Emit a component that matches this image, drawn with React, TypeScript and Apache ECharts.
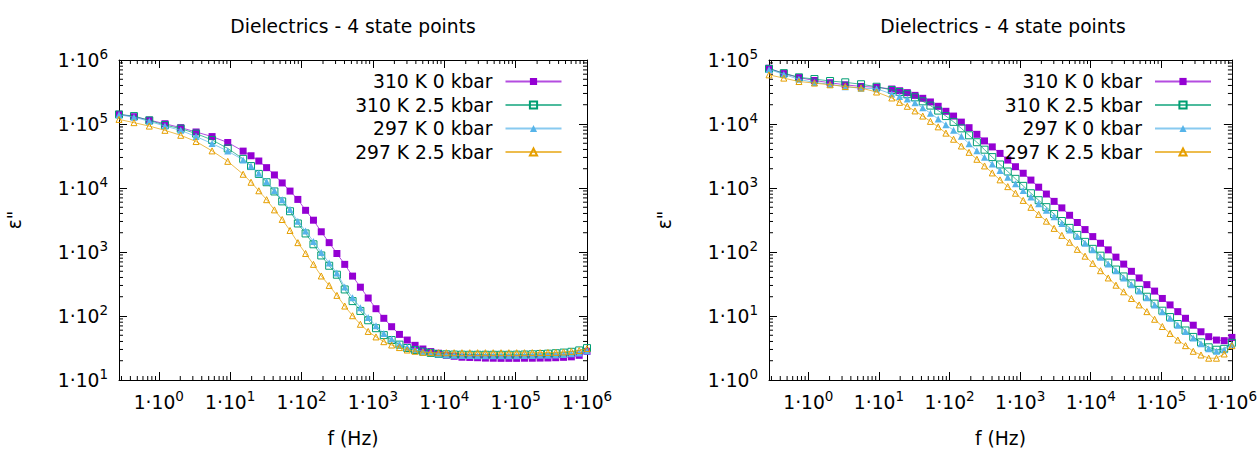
import React, { useEffect, useRef } from 'react';
import * as echarts from 'echarts';

const FONT = '"DejaVu Sans", Verdana, sans-serif';
const FS = 18.7;
const TITLE = 'Dielectrics - 4 state points';
const X_NAME = 'f (Hz)';
const Y_NAME = 'ε"';
const NAMES = ['310 K 0 kbar', '310 K 2.5 kbar', '297 K 0 kbar', '297 K 2.5 kbar'];
const COLORS = ['#9400d3', '#009e73', '#56b4e9', '#e69f00'];
const SYMBOLS = ['rect', 'rect', 'triangle', 'triangle'];
const HOLLOW = [false, true, false, true];
const SIZES = [7, 7, 7, 6];

// frequencies (Hz)
const FREQ = [
  0.277, 0.449, 0.736, 1.22, 2.03, 3.33, 5.58, 9.25,
  15.2, 19.6, 25.2, 32.4, 41.7, 53.6, 69.0, 88.8, 114, 147,
  189, 244, 313, 403, 519, 668, 859, 1105, 1422, 1830,
  2355, 3030, 3900, 5017, 6457, 8309, 10690, 13760, 17700, 22780,
  29310, 37720, 48530, 62450, 80350, 103400, 133000, 171200, 220300, 283500,
  364800, 469400, 604000, 777200, 1000000,
];

// left panel
const L_310_0 = [
  1.42e5, 1.30e5, 1.15e5, 1.01e5, 8.77e4, 7.50e4, 6.36e4, 5.14e4,
  3.77e4, 3.19e4, 2.64e4, 2.08e4, 1.60e4, 1.20e4, 8950, 6630, 4480, 3140,
  2070, 1400, 948, 641, 420, 282, 191, 130, 92, 68,
  51.6, 42.1, 34.8, 30.5, 27.8, 26.2, 24.4, 23.5, 22.7, 22.5,
  22.3, 22.0, 21.9, 21.8, 21.8, 21.8, 21.9, 21.9, 22.0, 22.1,
  22.3, 22.6, 23.0, 24.3, 28.0,
];
const L_310_25 = [
  1.41e5, 1.33e5, 1.14e5, 9.62e4, 8.46e4, 7.08e4, 5.64e4, 4.15e4,
  2.85e4, 2.20e4, 1.66e4, 1.23e4, 8830, 6180, 4330, 2790, 1950, 1320,
  883, 610, 442, 260, 171, 120, 85.8, 64.5, 50.3, 42.1,
  35.7, 31.6, 29.4, 27.8, 26.5, 25.5, 25.2, 25.0, 24.9, 24.8,
  24.8, 24.8, 24.8, 24.8, 24.8, 24.9, 25.0, 25.2, 25.5, 25.8,
  26.2, 26.8, 27.6, 29.0, 31.5,
];
const L_297_0 = [
  1.39e5, 1.28e5, 1.10e5, 9.27e4, 7.96e4, 6.36e4, 4.95e4, 3.77e4,
  2.75e4, 2.20e4, 1.70e4, 1.26e4, 9150, 6570, 4600, 3030, 2120, 1460,
  982, 671, 470, 285, 193, 135, 94.4, 70.3, 53.5, 43.6,
  36.5, 32.4, 29.9, 28.1, 26.9, 25.5, 24.8, 24.4, 24.2, 24.1,
  24.0, 24.0, 24.0, 24.0, 24.0, 24.0, 24.1, 24.2, 24.3, 24.4,
  24.6, 25.0, 25.6, 26.5, 28.5,
];
const L_297_25 = [
  1.18e5, 1.05e5, 9.27e4, 7.96e4, 6.66e4, 5.32e4, 3.80e4, 2.61e4,
  1.64e4, 1.23e4, 9050, 6570, 4550, 3220, 2170, 1400, 948, 641,
  422, 300, 210, 143, 101, 74.3, 57.4, 47.1, 39.7, 35.2,
  32.1, 29.4, 28.1, 27.1, 26.8, 26.7, 26.7, 26.7, 26.7, 26.7,
  26.7, 26.7, 26.7, 26.7, 26.7, 26.7, 26.7, 26.8, 26.8, 26.9,
  27.0, 27.4, 28.0, 28.9, 31.0,
];

// right panel
const R_310_0 = [
  7.44e4, 6.14e4, 5.32e4, 4.78e4, 4.41e4, 4.10e4, 3.86e4, 3.75e4,
  3.52e4, 3.31e4, 3.09e4, 2.80e4, 2.52e4, 2.21e4, 1.89e4, 1.58e4, 1.33e4, 1.07e4,
  8760, 6900, 5440, 4390, 3470, 2730, 2150, 1700, 1330, 1030,
  805, 618, 489, 375, 289, 224, 174, 137, 108, 83.1,
  64.7, 49.9, 39.3, 30.9, 24.5, 18.8, 14.9, 11.7, 9.21, 7.18,
  5.67, 4.75, 4.21, 4.12, 4.63,
];
const R_310_25 = [
  7.26e4, 6.23e4, 5.36e4, 5.04e4, 4.70e4, 4.48e4, 4.18e4, 3.82e4,
  3.40e4, 3.16e4, 2.92e4, 2.61e4, 2.26e4, 1.94e4, 1.62e4, 1.33e4, 1.08e4, 8550,
  6660, 5190, 3970, 3040, 2330, 1810, 1390, 1080, 828, 645,
  502, 392, 305, 238, 185, 144, 112, 87.6, 68.3, 53.2,
  41.5, 32.3, 25.6, 20.0, 15.6, 12.1, 9.62, 7.49, 5.94, 4.71,
  3.87, 3.24, 2.97, 3.07, 3.81,
];
const R_297_0 = [
  7.13e4, 5.96e4, 4.99e4, 4.45e4, 4.18e4, 3.82e4, 3.62e4, 3.56e4,
  2.94e4, 2.70e4, 2.46e4, 2.14e4, 1.79e4, 1.47e4, 1.20e4, 9750, 7960, 6430,
  4920, 3810, 3010, 2370, 1870, 1470, 1160, 915, 723, 569,
  448, 354, 279, 220, 174, 137, 108, 83.1, 64.7, 51.0,
  39.3, 30.9, 24.5, 19.3, 14.9, 11.7, 9.21, 7.18, 5.73, 4.52,
  3.67, 3.07, 2.81, 2.97, 3.61,
];
const R_297_25 = [
  5.86e4, 5.21e4, 4.61e4, 4.36e4, 4.10e4, 3.86e4, 3.65e4, 3.16e4,
  2.55e4, 2.18e4, 1.89e4, 1.60e4, 1.33e4, 1.10e4, 9020, 7200, 5780, 4530,
  3610, 2810, 2210, 1720, 1340, 1050, 828, 640, 499, 387,
  303, 234, 182, 142, 110, 86.1, 66.4, 51.0, 39.3, 30.3,
  23.9, 18.8, 14.9, 11.7, 8.89, 6.85, 5.34, 4.21, 3.44, 2.81,
  2.46, 2.19, 2.19, 2.55, 3.44,
];

const X_RANGE = [0.277, 1e6];
const L_Y_RANGE = [10, 1e6];
const R_Y_RANGE = [1, 1e5];

function minorTicks(lo: number, hi: number): number[] {
  const out: number[] = [];
  for (let e = -2; e <= 7; e++) {
    for (let m = 2; m <= 9; m++) {
      const v = m * Math.pow(10, e);
      if (v > lo && v < hi) out.push(v);
    }
  }
  return out;
}

const labelFormatter = (v: number) => {
  const n = Math.round(Math.log10(v));
  return `{b|1·10}{s|${n}}`;
};
const rich = {
  b: { fontSize: FS, fontFamily: FONT, color: '#000' },
  s: { fontSize: 13.5, fontFamily: FONT, color: '#000', padding: [0, 0, 12, 0] },
};

function buildPanel(p: number, yRange: number[], data: number[][], legendRight: number, center: number) {
  const gx = p * 2;
  const axisLine = { show: true, lineStyle: { color: '#000', width: 1 } };
  const axisTick = { show: true, inside: true, length: 8, lineStyle: { color: '#000' } };
  const nameStyle = { fontSize: FS, fontFamily: FONT, color: '#000' };
  const xAxes = [
    {
      type: 'log', gridIndex: p, min: X_RANGE[0], max: X_RANGE[1], position: 'bottom',
      axisLine, axisTick,
      axisLabel: { showMinLabel: false, margin: 9, formatter: labelFormatter, rich },
      splitLine: { show: false },
      name: X_NAME, nameLocation: 'middle', nameGap: 49, nameTextStyle: nameStyle,
    },
    {
      type: 'log', gridIndex: p, min: X_RANGE[0], max: X_RANGE[1], position: 'top',
      axisLine, axisTick, axisLabel: { show: false }, splitLine: { show: false },
    },
  ];
  const yAxes = [
    {
      type: 'log', gridIndex: p, min: yRange[0], max: yRange[1], position: 'left',
      axisLine, axisTick,
      axisLabel: { margin: 11, formatter: labelFormatter, rich },
      splitLine: { show: false },
      name: Y_NAME, nameLocation: 'middle', nameGap: 95, nameRotate: 90, nameTextStyle: nameStyle,
    },
    {
      type: 'log', gridIndex: p, min: yRange[0], max: yRange[1], position: 'right',
      axisLine, axisTick, axisLabel: { show: false }, splitLine: { show: false },
    },
  ];
  const series: any[] = data.map((arr, i) => ({
    name: NAMES[i],
    type: 'line',
    xAxisIndex: gx,
    yAxisIndex: gx,
    data: FREQ.map((f, j) => [f, arr[j]]),
    symbol: SYMBOLS[i],
    symbolSize: SIZES[i],
    showSymbol: true,
    clip: false,
    color: COLORS[i],
    itemStyle: HOLLOW[i]
      ? { color: 'rgba(255,255,255,0)', borderColor: COLORS[i], borderWidth: 1 }
      : { color: COLORS[i], borderWidth: 0 },
    lineStyle: { color: COLORS[i], width: 1, opacity: 0.7 },
    z: 2 + i,
  }));
  const xm = minorTicks(X_RANGE[0], X_RANGE[1]);
  const ym = minorTicks(yRange[0], yRange[1]);
  const tickStyle = { stroke: '#000', lineWidth: 1 };
  series.push({
    type: 'custom', name: 'xminor', xAxisIndex: gx, yAxisIndex: gx, silent: true, clip: false,
    data: xm.map((v) => [v, yRange[0]]),
    renderItem: (params: any, api: any) => {
      const v = api.value(0);
      const b = api.coord([v, yRange[0]]);
      const t = api.coord([v, yRange[1]]);
      return {
        type: 'group',
        children: [
          { type: 'line', shape: { x1: b[0], y1: b[1], x2: b[0], y2: b[1] - 4 }, style: tickStyle },
          { type: 'line', shape: { x1: t[0], y1: t[1], x2: t[0], y2: t[1] + 4 }, style: tickStyle },
        ],
      };
    },
  });
  series.push({
    type: 'custom', name: 'yminor', xAxisIndex: gx, yAxisIndex: gx, silent: true, clip: false,
    data: ym.map((v) => [X_RANGE[0], v]),
    renderItem: (params: any, api: any) => {
      const v = api.value(1);
      const l = api.coord([X_RANGE[0], v]);
      const r = api.coord([X_RANGE[1], v]);
      return {
        type: 'group',
        children: [
          { type: 'line', shape: { x1: l[0], y1: l[1], x2: l[0] + 4, y2: l[1] }, style: tickStyle },
          { type: 'line', shape: { x1: r[0], y1: r[1], x2: r[0] - 4, y2: r[1] }, style: tickStyle },
        ],
      };
    },
  });
  const legend = {
    data: NAMES,
    orient: 'vertical',
    align: 'right',
    right: legendRight,
    top: 71.5,
    padding: 0,
    itemWidth: 56,
    itemHeight: 9,
    itemGap: 3.5,
    selectedMode: false,
    textStyle: { fontSize: FS, fontFamily: FONT, color: '#000', lineHeight: 20, padding: [0, 8, 0, 0] },
  };
  const title = {
    text: TITLE,
    left: center,
    top: 17,
    padding: 0,
    textAlign: 'center',
    textStyle: { fontSize: FS, fontWeight: 'normal', fontFamily: FONT, color: '#000' },
  };
  return { xAxes, yAxes, series, legend, title };
}

export default function App() {
  const ref = useRef<HTMLDivElement>(null);
  useEffect(() => {
    if (!ref.current) return;
    const chart = echarts.init(ref.current, undefined, { renderer: 'svg' });
    const left = buildPanel(0, L_Y_RANGE, [L_310_0, L_310_25, L_297_0, L_297_25], 697.5, 353);
    const right = buildPanel(1, R_Y_RANGE, [R_310_0, R_310_25, R_297_0, R_297_25], 48, 1003);
    chart.setOption({
      animation: false,
      backgroundColor: '#fff',
      title: [left.title, right.title],
      legend: [left.legend, right.legend],
      grid: [
        { left: 119, top: 60, width: 468, height: 323 },
        { left: 769, top: 60, width: 468, height: 323 },
      ],
      xAxis: [...left.xAxes, ...right.xAxes],
      yAxis: [...left.yAxes, ...right.yAxes],
      series: [...left.series, ...right.series],
    });
    return () => chart.dispose();
  }, []);
  return (
    <div
      ref={ref}
      style={{ position: 'fixed', left: 0, top: 0, width: 1260, height: 453, background: '#fff' }}
    />
  );
}
